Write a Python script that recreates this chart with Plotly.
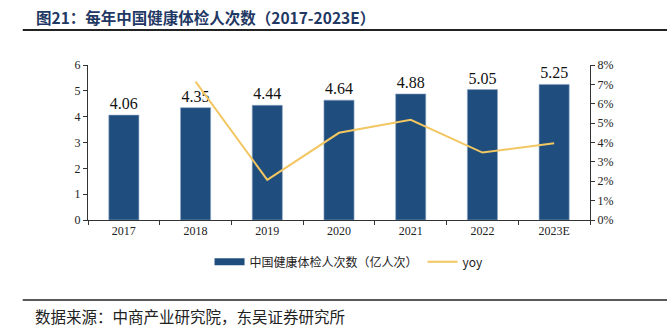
import plotly.graph_objects as go

# Annual health check-up volume in China (100 million visits) and YoY growth
years = ["2017", "2018", "2019", "2020", "2021", "2022", "2023E"]
visits = [4.06, 4.35, 4.44, 4.64, 4.88, 5.05, 5.25]
yoy_years = ["2018", "2019", "2020", "2021", "2022", "2023E"]
yoy = [0.0714, 0.0207, 0.0450, 0.0517, 0.0348, 0.0396]

BAR_COLOR = "#1F4E7E"
LINE_COLOR = "#F2C661"
TITLE_COLOR = "#1F3864"
SERIF = "Liberation Serif, Times New Roman, serif"
CJK = "Noto Sans CJK SC, sans-serif"

fig = go.Figure()

fig.add_trace(go.Bar(
    x=years, y=visits,
    name="中国健康体检人次数（亿人次）",
    marker=dict(color=BAR_COLOR, line=dict(color="#8FA8C4", width=0.6)),
    width=0.42,
    text=[f"{v:.2f}" for v in visits],
    textposition="outside",
    textfont=dict(family=SERIF, size=16, color="#111111"),
    cliponaxis=False,
    showlegend=False,
))

# legend swatch for the bars, drawn as a wide band
fig.add_trace(go.Scatter(
    x=[None], y=[None], mode="lines",
    name="中国健康体检人次数（亿人次）",
    line=dict(color=BAR_COLOR, width=7),
    showlegend=True,
))

fig.add_trace(go.Scatter(
    x=yoy_years, y=yoy, mode="lines",
    name="yoy",
    line=dict(color=LINE_COLOR, width=2),
    yaxis="y2",
))

fig.update_layout(
    width=667, height=328,
    margin=dict(l=88, r=77, t=65, b=108),
    plot_bgcolor="white", paper_bgcolor="white",
    bargap=0.58,
    xaxis=dict(
        type="category", categoryorder="array", categoryarray=years,
        showline=True, linecolor="#333333", linewidth=1,
        ticks="outside", tickson="boundaries", ticklen=4, tickcolor="#333333",
        tickfont=dict(family=SERIF, size=12, color="#222222"),
        showgrid=False, zeroline=False,
    ),
    yaxis=dict(
        range=[0, 6], dtick=1,
        showline=True, linecolor="#333333", linewidth=1,
        ticks="outside", ticklen=4, tickcolor="#333333",
        tickfont=dict(family=SERIF, size=12, color="#222222"),
        showgrid=False, zeroline=False,
    ),
    yaxis2=dict(
        overlaying="y", side="right",
        range=[0, 0.08], dtick=0.01, tickformat=".0%",
        showline=True, linecolor="#333333", linewidth=1,
        ticks="outside", ticklen=4, tickcolor="#333333",
        tickfont=dict(family=SERIF, size=12, color="#222222"),
        showgrid=False, zeroline=False,
    ),
    legend=dict(
        orientation="h", x=0.52, xanchor="center", y=-0.27, yanchor="middle",
        font=dict(family=CJK, size=12, color="#222222"),
        itemwidth=30, tracegroupgap=0,
        bgcolor="rgba(0,0,0,0)",
    ),
    showlegend=True,
)

# title and source
fig.add_annotation(
    text="<b>图21：每年中国健康体检人次数（2017-2023E）</b>",
    xref="paper", yref="paper", x=-0.108, y=1.0, yanchor="middle", xanchor="left",
    yshift=48, showarrow=False,
    font=dict(family=CJK, size=15.5, color=TITLE_COLOR),
)
fig.add_annotation(
    text="数据来源：中商产业研究院，东吴证券研究所",
    xref="paper", yref="paper", x=-0.11, y=0, xanchor="left", yanchor="middle",
    yshift=-96, showarrow=False,
    font=dict(family=CJK, size=15.5, color="#222222"),
)

# rules under the title and above the source
fig.add_shape(type="line", xref="paper", yref="paper",
              x0=-0.13, x1=1.16, y0=1.226, y1=1.226,
              line=dict(color="#222222", width=2))
fig.add_shape(type="line", xref="paper", yref="paper",
              x0=-0.13, x1=1.16, y0=-0.516, y1=-0.516,
              line=dict(color="#222222", width=1.5))

fig.write_html("out.html")
